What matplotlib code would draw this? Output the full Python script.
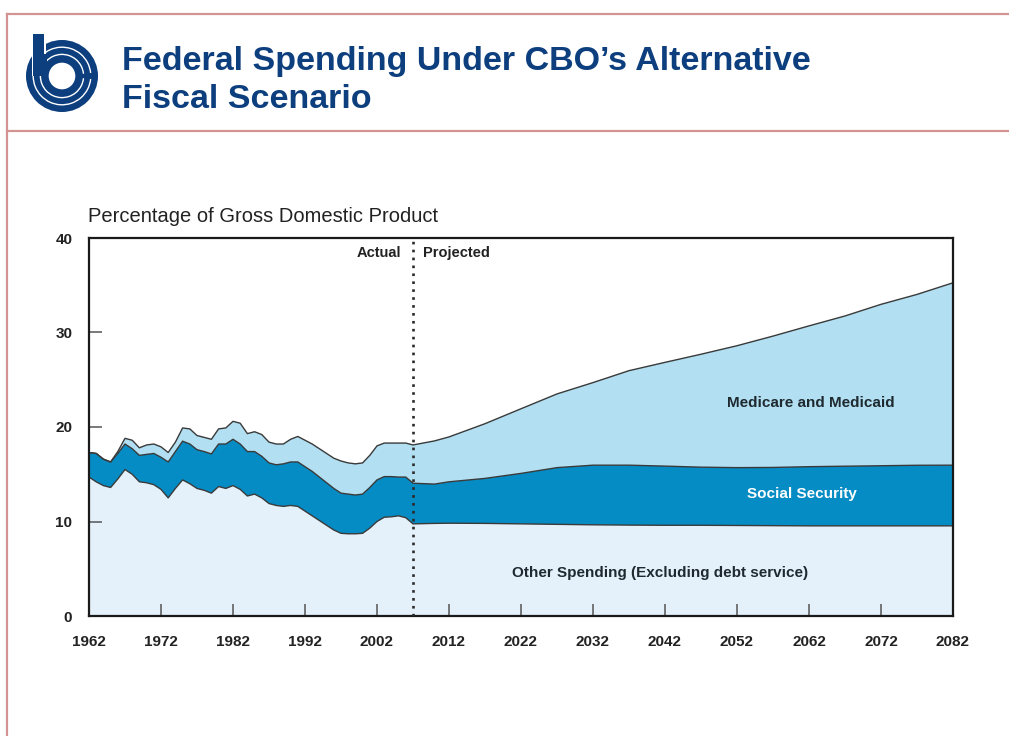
import matplotlib
matplotlib.use("Agg")
import matplotlib.pyplot as plt
import numpy as np
from matplotlib.lines import Line2D
from matplotlib.patches import Arc, Circle, Rectangle

# figure is laid out in pixels (1009 x 736), helpers turn px into figure fractions
W, H = 1009, 736


def fx(x):
    return x / W


def fy(y):
    return 1 - y / H


NAVY = "#0d3f7e"
FRAME = "#d49393"
LINE = "#3a3a3a"
C_OTHER = "#e4f1fa"
C_SS = "#058cc4"
C_MED = "#b2dff1"
FONT = "Liberation Sans"

# ---- data (% of GDP) ----
years = list(range(1962, 2008)) + [2010, 2012, 2017, 2022, 2027, 2032, 2037, 2042,
                                   2047, 2052, 2057, 2062, 2067, 2072, 2077, 2082]

other_spending = [14.7, 14.2, 13.8, 13.6, 14.5, 15.5, 15.0, 14.2, 14.1, 13.9,
                  13.4, 12.5, 13.5, 14.4, 14.0, 13.5, 13.3, 13.0, 13.7, 13.5,
                  13.8, 13.4, 12.7, 12.9, 12.5, 11.9, 11.7, 11.6, 11.7, 11.6,
                  11.1, 10.6, 10.1, 9.6, 9.1, 8.75, 8.7, 8.7, 8.75, 9.3,
                  10.0, 10.45, 10.5, 10.6, 10.4, 9.75,
                  9.8, 9.82, 9.8, 9.75, 9.7, 9.65, 9.62, 9.6,
                  9.6, 9.58, 9.56, 9.54, 9.54, 9.54, 9.54, 9.54]

social_security = [2.6, 3.0, 2.8, 2.7, 2.7, 2.7, 2.7, 2.8, 3.0, 3.3,
                   3.4, 3.8, 3.9, 4.1, 4.2, 4.1, 4.1, 4.15, 4.5, 4.7,
                   4.9, 4.8, 4.7, 4.5, 4.4, 4.3, 4.3, 4.5, 4.6, 4.7,
                   4.7, 4.7, 4.6, 4.5, 4.4, 4.25, 4.2, 4.1, 4.15, 4.3,
                   4.4, 4.3, 4.25, 4.1, 4.3, 4.3,
                   4.16, 4.38, 4.76, 5.34, 6.0, 6.31, 6.34, 6.26,
                   6.15, 6.12, 6.16, 6.26, 6.31, 6.36, 6.41, 6.42]

medicare_medicaid = [0.0, 0.0, 0.0, 0.0, 0.2, 0.6, 0.9, 0.8, 1.0, 1.0,
                     1.1, 1.0, 1.0, 1.4, 1.6, 1.5, 1.5, 1.55, 1.6, 1.7,
                     1.9, 2.2, 1.9, 2.1, 2.3, 2.2, 2.2, 2.1, 2.4, 2.7,
                     2.8, 2.9, 3.0, 3.1, 3.2, 3.4, 3.3, 3.3, 3.3, 3.4,
                     3.6, 3.55, 3.55, 3.6, 3.6, 4.05,
                     4.57, 4.75, 5.79, 6.84, 7.8, 8.74, 10.0, 10.98,
                     11.95, 12.9, 13.9, 14.9, 15.9, 17.08, 18.08, 19.3]

x_ticks = list(range(1962, 2083, 10))
y_ticks = [0, 10, 20, 30, 40]
last_actual = 2007

fig = plt.figure(figsize=(W / 100, H / 100), dpi=100)
fig.patch.set_facecolor("white")

# pinkish frame round the header
for xs, ys in [([fx(7), 1], [fy(14), fy(14)]),
               ([fx(7), 1], [fy(131), fy(131)]),
               ([fx(7), fx(7)], [fy(14), 0])]:
    fig.add_artist(Line2D(xs, ys, color=FRAME, lw=1.6))

# CBO logo, drawn from circles, arcs and a bar (1 unit = 36 px, centre at 62, 76)
lg = fig.add_axes([fx(18), fy(120), 88 / W, 88 / H])
lg.set_xlim(-1.222, 1.222)
lg.set_ylim(-1.222, 1.222)
lg.axis("off")
lg.add_patch(Circle((0, 0), 1.0, color=NAVY, lw=0))
for r in (0.8, 0.6):
    lg.add_patch(Arc((0, 0), 2 * r, 2 * r, theta1=6, theta2=354, color="white", lw=1.0))
lg.add_patch(Circle((0, 0), 0.37, color="white", lw=0))
lg.add_patch(Rectangle((-0.84, 0.0), 0.4, 1.2, color="white", lw=0))
lg.add_patch(Rectangle((-0.8, 0.0), 0.3, 1.17, color=NAVY, lw=0))
lg.add_patch(Rectangle((-0.5, 0.0), 0.08, 0.62, color=NAVY, lw=0))

fig.text(fx(122), fy(70), "Federal Spending Under CBO\u2019s Alternative",
         family=FONT, fontsize=24.5, fontweight="bold", color=NAVY, va="baseline")
fig.text(fx(122), fy(108), "Fiscal Scenario",
         family=FONT, fontsize=24.5, fontweight="bold", color=NAVY, va="baseline")

# ---- chart ----
ax = fig.add_axes([fx(89), fy(616), (953 - 89) / W, (616 - 238) / H])
ax.stackplot(years, other_spending, social_security, medicare_medicaid,
             colors=[C_OTHER, C_SS, C_MED], lw=0)
tops = np.cumsum([other_spending, social_security, medicare_medicaid], axis=0)
for t in tops:
    ax.plot(years, t, color=LINE, lw=1.0)

ax.axvline(last_actual, color="#2b2b2b", lw=1.9, linestyle=(0, (1, 2)), zorder=5)

ax.set_xlim(1962, 2082)
ax.set_ylim(0, 40)
ax.set_xticks(x_ticks)
ax.set_yticks(y_ticks)
ax.tick_params(direction="in", length=9, width=1.1, color="#555555")
ax.tick_params(axis="x", pad=14)
ax.tick_params(axis="y", pad=12)
for lab in ax.get_xticklabels() + ax.get_yticklabels():
    lab.set_family(FONT)
    lab.set_fontweight("bold")
    lab.set_fontsize(11)
    lab.set_color("#222222")
for s in ax.spines.values():
    s.set_linewidth(1.6)
    s.set_color("#1a1a1a")

fig.text(fx(88), fy(216), "Percentage of Gross Domestic Product",
         family=FONT, fontsize=14.5, color="#222222", va="center", ha="left")

lab_kw = dict(family=FONT, fontsize=10.5, fontweight="bold", va="center")
ax.text(last_actual - 1.6, 38.4, "Actual", ha="right", color="#222222", **lab_kw)
ax.text(last_actual + 1.4, 38.4, "Projected", ha="left", color="#222222", **lab_kw)

band_kw = dict(family=FONT, fontsize=11, fontweight="bold", ha="center", va="center")
ax.text(2062.3, 22.5, "Medicare and Medicaid", color="#1f2a30", **band_kw)
ax.text(2061, 12.9, "Social Security", color="white", **band_kw)
ax.text(2041.3, 4.6, "Other Spending (Excluding debt service)", color="#1f2a30", **band_kw)

fig.savefig("out.png", dpi=100, facecolor="white")
